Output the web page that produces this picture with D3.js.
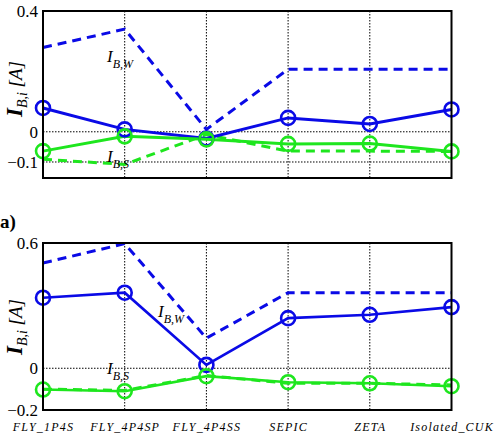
<!DOCTYPE html>
<html>
<head>
<meta charset="utf-8">
<script src="https://cdn.jsdelivr.net/npm/d3@7"></script>
<style>
  body { margin: 0; background: #fff; }
  svg { display: block; }
</style>
</head>
<body>
<script>
const width = 498, height = 438;
const blue = "#0a0ae6", green = "#1ee61e";
const serif = '"Liberation Serif"';

const categories = ["FLY_1P4S", "FLY_4P4SP", "FLY_4P4SS", "SEPIC", "ZETA", "Isolated_CUK"];

// panel (top)
const topWSolid  = [0.079, 0.008, -0.022, 0.046, 0.026, 0.074];
const topWDash   = [0.279, 0.340, 0.008, 0.207, 0.207, 0.207];
const topSSolid  = [-0.064, -0.015, -0.025, -0.040, -0.039, -0.065];
const topSDash   = [-0.091, -0.108, -0.009, -0.064, -0.064, -0.065];
const topTicks = [-0.1, 0, 0.4];

// panel a) (bottom)
const botWSolid  = [0.338, 0.362, 0.016, 0.240, 0.256, 0.293];
const botWDash   = [0.504, 0.597, 0.144, 0.362, 0.362, 0.362];
const botSSolid  = [-0.102, -0.110, -0.038, -0.067, -0.072, -0.086];
const botSDash   = [-0.100, -0.106, -0.035, -0.072, -0.072, -0.080];
const botTicks = [-0.2, 0, 0.6];

const svg = d3.select("body").append("svg")
    .attr("width", width)
    .attr("height", height);

const x = d3.scalePoint()
    .domain(categories)
    .range([43, 451.5]);

function panel(cfg) {
  const y = d3.scaleLinear().domain(cfg.domain).range([cfg.bottom, cfg.top]);
  const g = svg.append("g");

  // dotted grid
  g.append("g").selectAll("line")
    .data(categories.slice(1, -1))
    .join("line")
      .attr("x1", d => x(d)).attr("x2", d => x(d))
      .attr("y1", cfg.top).attr("y2", cfg.bottom)
      .attr("stroke", "#000").attr("stroke-width", 1)
      .attr("stroke-dasharray", "1.5,1.5");
  g.append("g").selectAll("line")
    .data(cfg.grid)
    .join("line")
      .attr("x1", x.range()[0]).attr("x2", x.range()[1])
      .attr("y1", d => y(d)).attr("y2", d => y(d))
      .attr("stroke", "#000").attr("stroke-width", 1)
      .attr("stroke-dasharray", "1.5,1.5");

  // y axis tick labels
  const yAxis = d3.axisLeft(y).tickValues(cfg.ticks).tickSize(0).tickPadding(5)
      .tickFormat(d => d === 0 ? "0" : d3.format(".1f")(d));
  g.append("g")
      .attr("transform", `translate(${x.range()[0]},0)`)
      .call(yAxis)
      .call(a => a.select(".domain").remove())
      .call(a => a.selectAll("text")
          .style("font-family", serif)
          .style("font-size", "17px")
          .attr("fill", "#000"));

  const line = d3.line()
      .x((d, i) => x(categories[i]))
      .y(d => y(d));

  const series = [
    {v: cfg.wDash, c: blue, dash: "9,6", w: 3},
    {v: cfg.sDash, c: green, dash: "9,6", w: 3},
    {v: cfg.wSolid, c: blue, dash: null, w: cfg.solidW, mark: true},
    {v: cfg.sSolid, c: green, dash: null, w: cfg.solidW, mark: true}
  ];
  series.forEach(s => {
    g.append("path")
      .datum(s.v)
      .attr("fill", "none")
      .attr("stroke", s.c)
      .attr("stroke-width", s.w)
      .attr("stroke-dasharray", s.dash)
      .attr("d", line);
  });
  series.filter(s => s.mark).forEach(s => {
    g.append("g").selectAll("circle")
      .data(s.v)
      .join("circle")
        .attr("cx", (d, i) => x(categories[i]))
        .attr("cy", d => y(d))
        .attr("r", 7)
        .attr("fill", "none")
        .attr("stroke", s.c)
        .attr("stroke-width", 2.6);
  });

  // frame
  g.append("rect")
      .attr("x", x.range()[0]).attr("y", cfg.top)
      .attr("width", x.range()[1] - x.range()[0])
      .attr("height", cfg.bottom - cfg.top)
      .attr("fill", "none")
      .attr("stroke", "#000")
      .attr("stroke-width", 2);

  // y label
  const yl = g.append("text")
      .attr("transform", `translate(${cfg.labelX},${cfg.labelY}) rotate(-90)`)
      .attr("text-anchor", "middle")
      .style("font-family", serif)
      .attr("font-style", "italic")
      .attr("font-size", 19);
  yl.append("tspan").attr("font-weight", "bold").attr("font-size", 23).text("I");
  yl.append("tspan").attr("dy", 5).attr("font-size", 14).text("B,i");
  yl.append("tspan").attr("dy", -5).text(" [A]");

  // annotations
  cfg.notes.forEach(n => {
    const t = g.append("text")
        .attr("x", n.x).attr("y", n.y)
        .style("font-family", serif)
        .attr("font-style", "italic");
    t.append("tspan").attr("font-size", 17).text("I");
    t.append("tspan").attr("dy", 6).attr("font-size", 12).text(n.sub);
  });
  return y;
}

panel({
  domain: [-0.153, 0.4], top: 11, bottom: 178,
  ticks: topTicks, grid: [0, -0.1],
  wSolid: topWSolid, wDash: topWDash, sSolid: topSSolid, sDash: topSDash,
  solidW: 3,
  labelX: 22, labelY: 89,
  notes: [{x: 107, y: 62, sub: "B,W"}, {x: 107, y: 162, sub: "B,S"}]
});

panel({
  domain: [-0.2, 0.6], top: 243, bottom: 410,
  ticks: botTicks, grid: [0],
  wSolid: botWSolid, wDash: botWDash, sSolid: botSSolid, sDash: botSDash,
  solidW: 2.6,
  labelX: 22, labelY: 327,
  notes: [{x: 158, y: 317, sub: "B,W"}, {x: 107, y: 374, sub: "B,S"}]
});

// x category labels
svg.append("g")
  .attr("transform", "translate(0,410)")
  .call(d3.axisBottom(x).tickSize(0).tickPadding(12))
  .call(a => a.select(".domain").remove())
  .call(a => a.selectAll("text")
      .style("font-family", serif)
      .style("font-size", "12px")
      .attr("font-style", "italic")
      .attr("letter-spacing", 1.2)
      .attr("fill", "#000"));

// panel tag
svg.append("text")
  .attr("x", 0).attr("y", 228)
  .style("font-family", serif)
  .attr("font-size", 19)
  .attr("font-weight", "bold")
  .text("a)");
</script>
</body>
</html>
